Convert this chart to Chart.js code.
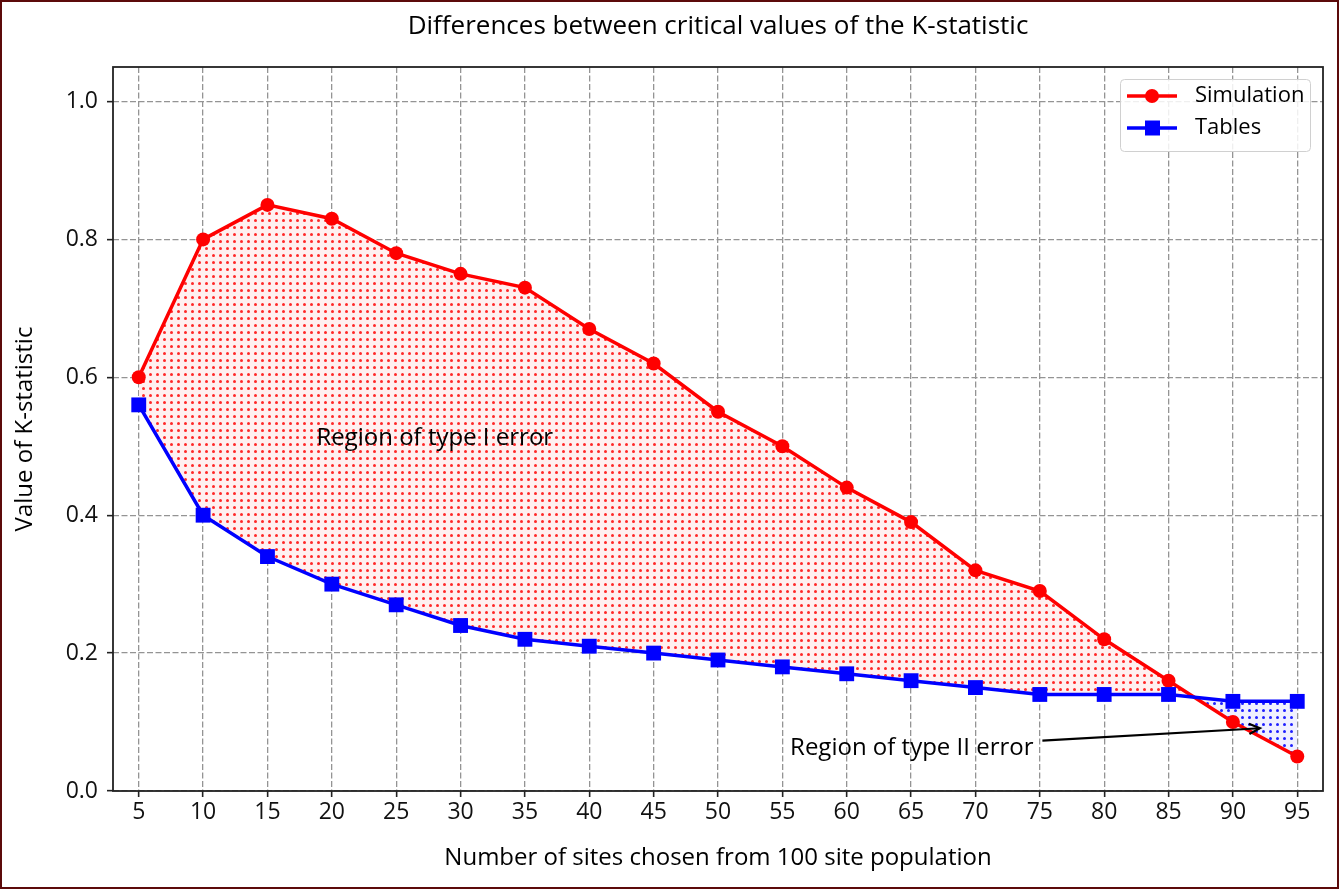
<!DOCTYPE html>
<html>
<head>
<meta charset="utf-8">
<script src="https://cdn.jsdelivr.net/npm/chart.js@4"></script>
<style>
  html, body { margin: 0; padding: 0; background: #fff; }
  canvas { display: block; }
</style>
</head>
<body>
<canvas id="chart" width="1339" height="889" style="width:1339px;height:889px"></canvas>
<script>
  const sites = [5, 10, 15, 20, 25, 30, 35, 40, 45, 50, 55, 60, 65, 70, 75, 80, 85, 90, 95];
  const simulation = [0.60, 0.80, 0.85, 0.83, 0.78, 0.75, 0.73, 0.67, 0.62, 0.55, 0.50, 0.44, 0.39, 0.32, 0.29, 0.22, 0.16, 0.10, 0.05];
  const tables = [0.56, 0.40, 0.34, 0.30, 0.27, 0.24, 0.22, 0.21, 0.20, 0.19, 0.18, 0.17, 0.16, 0.15, 0.14, 0.14, 0.14, 0.13, 0.13];
  const yTickValues = [0.0, 0.2, 0.4, 0.6, 0.8, 1.0];

  const FONT = "'Open Sans', sans-serif";
  const FS = 24;

  // dotted hatch like matplotlib '..'
  function dotPattern(bg, dot) {
    const c = document.createElement("canvas");
    c.width = 7;
    c.height = 7;
    const g = c.getContext("2d");
    g.fillStyle = bg;
    g.fillRect(0, 0, 7, 7);
    g.fillStyle = dot;
    g.beginPath();
    g.arc(3.5, 3.5, 1.5, 0, Math.PI * 2);
    g.fill();
    return g.createPattern(c, "repeat");
  }

  const redFill = dotPattern("#fff0f0", "rgba(255, 30, 30, 0.95)");
  const blueFill = dotPattern("#f0f0ff", "rgba(20, 20, 255, 0.95)");

  const deco = {
    id: "deco",
    beforeDraw(chart) {
      const ctx = chart.ctx;
      ctx.save();
      ctx.fillStyle = "#fff";
      ctx.fillRect(0, 0, chart.width, chart.height);
      ctx.restore();
    },
    afterDatasetsDraw(chart) {
      const { ctx, chartArea: a, scales: { x, y } } = chart;
      ctx.save();

      // annotations
      ctx.fillStyle = "#000";
      ctx.font = `${FS}px ${FONT}`;
      ctx.textBaseline = "middle";
      ctx.textAlign = "left";
      ctx.fillText("Region of type I error", x.getPixelForValue(18.8), y.getPixelForValue(0.512));
      ctx.fillText("Region of type II error", x.getPixelForValue(55.6), y.getPixelForValue(0.062));

      const x0 = x.getPixelForValue(75.2), y0 = y.getPixelForValue(0.073);
      const x1 = x.getPixelForValue(92.1), y1 = y.getPixelForValue(0.091);
      ctx.strokeStyle = "#000";
      ctx.lineWidth = 2.2;
      ctx.beginPath();
      ctx.moveTo(x0, y0);
      ctx.lineTo(x1, y1);
      ctx.stroke();
      const ang = Math.atan2(y1 - y0, x1 - x0);
      ctx.beginPath();
      ctx.moveTo(x1 - 12 * Math.cos(ang - 0.45), y1 - 12 * Math.sin(ang - 0.45));
      ctx.lineTo(x1, y1);
      ctx.lineTo(x1 - 12 * Math.cos(ang + 0.45), y1 - 12 * Math.sin(ang + 0.45));
      ctx.stroke();

      // frame
      ctx.strokeStyle = "#222";
      ctx.lineWidth = 1.8;
      ctx.strokeRect(a.left, a.top, a.right - a.left, a.bottom - a.top);

      // title and axis labels
      const cx = (a.left + a.right) / 2;
      ctx.textAlign = "center";
      ctx.fillText("Number of sites chosen from 100 site population", cx, 858);
      ctx.save();
      ctx.translate(25, (a.top + a.bottom) / 2);
      ctx.rotate(-Math.PI / 2);
      ctx.fillText("Value of K-statistic", 0, 0);
      ctx.restore();
      ctx.font = `${FS + 2}px ${FONT}`;
      ctx.fillText("Differences between critical values of the K-statistic", cx, 27);

      // legend
      const lx = 1120, ly = 79, lw = 190, lh = 72;
      ctx.fillStyle = "rgba(255,255,255,0.85)";
      ctx.strokeStyle = "#d0d0d0";
      ctx.lineWidth = 1;
      ctx.beginPath();
      ctx.roundRect(lx + 0.5, ly + 0.5, lw, lh, 4);
      ctx.fill();
      ctx.stroke();
      ctx.font = `${FS - 2}px ${FONT}`;
      const items = [
        { label: "Simulation", color: "#ff0000", shape: "circle", yy: 96 },
        { label: "Tables", color: "#0000ff", shape: "rect", yy: 128 },
      ];
      items.forEach((it) => {
        ctx.strokeStyle = it.color;
        ctx.fillStyle = it.color;
        ctx.lineWidth = 3.5;
        ctx.beginPath();
        ctx.moveTo(1127, it.yy);
        ctx.lineTo(1177, it.yy);
        ctx.stroke();
        ctx.beginPath();
        if (it.shape === "circle") ctx.arc(1152, it.yy, 7, 0, Math.PI * 2);
        else ctx.rect(1145, it.yy - 7.5, 15, 15);
        ctx.fill();
        ctx.fillStyle = "#000";
        ctx.textAlign = "left";
        ctx.fillText(it.label, 1195, it.yy);
      });

      // outer border
      ctx.strokeStyle = "#5c0a0a";
      ctx.lineWidth = 2;
      ctx.strokeRect(1, 1, chart.width - 2, chart.height - 2);
      ctx.restore();
    },
  };

  const gridOpts = {
    color: "#949494",
    lineWidth: 1.3,
    tickColor: "#222",
    tickLength: 6,
    tickWidth: 1.6,
    tickBorderDash: [],
  };

  new Chart(document.getElementById("chart"), {
    type: "line",
    data: {
      datasets: [
        {
          label: "Simulation",
          data: sites.map((s, i) => ({ x: s, y: simulation[i] })),
          borderColor: "#ff0000",
          backgroundColor: "#ff0000",
          borderWidth: 3.5,
          pointStyle: "circle",
          pointRadius: 7,
          pointBorderWidth: 0,
          tension: 0,
          order: 1,
          fill: { target: 1, above: redFill, below: blueFill },
        },
        {
          label: "Tables",
          data: sites.map((s, i) => ({ x: s, y: tables[i] })),
          borderColor: "#0000ff",
          backgroundColor: "#0000ff",
          borderWidth: 3.5,
          pointStyle: "rect",
          pointRadius: 10.5,
          pointBorderWidth: 0,
          tension: 0,
          order: 0,
          fill: false,
        },
      ],
    },
    options: {
      responsive: false,
      animation: false,
      devicePixelRatio: 1,
      layout: { padding: { top: 67, right: 16, left: 0, bottom: 0 } },
      plugins: {
        legend: { display: false },
        title: { display: false },
        tooltip: { enabled: false },
      },
      scales: {
        x: {
          type: "linear",
          min: 3,
          max: 97,
          afterBuildTicks: (s) => { s.ticks = sites.map((v) => ({ value: v })); },
          afterFit: (s) => { s.height = 98; },
          grid: gridOpts,
          border: { display: false, dash: [6, 2.5] },
          ticks: { color: "#111", font: { family: FONT, size: FS - 1 }, padding: 2, maxRotation: 0, autoSkip: false },
        },
        y: {
          type: "linear",
          min: 0,
          max: 1.05,
          afterBuildTicks: (s) => { s.ticks = yTickValues.map((v) => ({ value: v })); },
          afterFit: (s) => { s.width = 113; },
          grid: gridOpts,
          border: { display: false, dash: [6, 2.5] },
          ticks: {
            color: "#111",
            font: { family: FONT, size: FS - 1 },
            padding: 9,
            callback: (v) => Number(v).toFixed(1),
          },
        },
      },
    },
    plugins: [deco],
  });
</script>
</body>
</html>
